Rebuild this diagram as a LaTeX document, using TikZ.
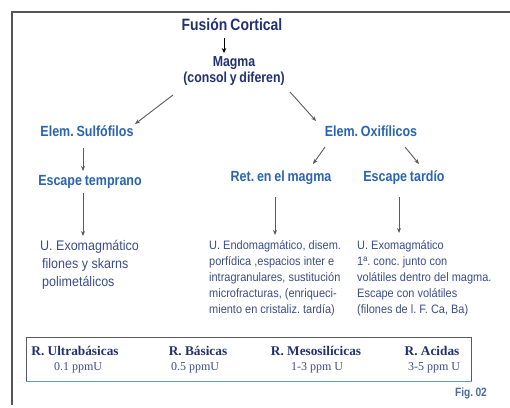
\documentclass[tikz,border=0pt]{standalone}
\usepackage{fontspec}
\usetikzlibrary{arrows.meta}
\setmainfont{Liberation Serif}
\frenchspacing
\newfontfamily\hfont[FakeStretch=0.85,WordSpace=0.8]{Liberation Sans}
\newfontfamily\bfont[FakeStretch=0.9]{Liberation Sans}
\definecolor{navy}{HTML}{22306F}
\definecolor{midblue}{HTML}{2A63B0}
\definecolor{bodyblue}{HTML}{3B4C8C}
\definecolor{framegray}{HTML}{555555}
\definecolor{arrgray}{HTML}{5A5A5A}
\definecolor{boxblue}{HTML}{5B9BD5}
\definecolor{figblue}{HTML}{4A6A9A}
\tikzset{
  title/.style={inner sep=0pt, text=navy, font=\hfont\bfseries\fontsize{16.4}{18}\selectfont},
  mag/.style={inner sep=0pt, text=navy, align=center, font=\hfont\bfseries\fontsize{14.5}{16}\selectfont},
  lvl/.style={inner sep=0pt, text=midblue, font=\hfont\bfseries\fontsize{14.7}{17}\selectfont},
  bodyL/.style={inner sep=0pt, text=bodyblue, align=left, anchor=west, font=\bfont\fontsize{13.9}{18}\selectfont},
  bodyR/.style={inner sep=0pt, text=bodyblue, align=left, anchor=west, font=\bfont\fontsize{12.2}{16}\selectfont},
  rlab/.style={inner sep=0pt, text=navy, font=\bfseries\fontsize{13.3}{15}\selectfont},
  rval/.style={inner sep=0pt, text=bodyblue, font=\fontsize{12}{14}\selectfont},
  arr/.style={draw=arrgray, line width=0.9pt, -{Stealth[length=5pt,width=4pt]}},
  blk/.style={draw=black, line width=1pt, -{Stealth[length=5pt,width=4.5pt]}}
}
\begin{document}
\begin{tikzpicture}[x=1pt,y=-1pt]
\useasboundingbox (0,0) rectangle (510,407);
% outer frame
\draw[framegray, line width=1.6pt] (510,12) -- (12,12) -- (12,405);
% nodes
\node[title] (fus) at (232,25) {Fusión Cortical};
\node[mag] (magma) at (234,71) {Magma\\(consol y diferen)};
\node[lvl] (sulf) at (87,131) {Elem. Sulfófilos};
\node[lvl] (oxi) at (371,131) {Elem. Oxifílicos};
\node[lvl] (esct) at (90,182) {Escape temprano};
\node[lvl] (ret) at (281,178) {Ret. en el magma};
\node[lvl] (esctard) at (404,178) {Escape tardío};
\node[bodyL] (exo1) at (40,265) {U. Exomagmático\\\hspace{2pt}filones y skarns\\\hspace{2pt}polimetálicos};
\node[bodyR] (endo) at (209,278) {U. Endomagmático, disem.\\porfídica ,espacios inter e\\intragranulares, sustitución\\microfracturas, (enriqueci-\\miento en cristaliz. tardía)};
\node[bodyR] (exo2) at (357,278) {U. Exomagmático\\1ª. conc. junto con\\volátiles dentro del magma.\\Escape con volátiles\\(filones de l. F. Ca, Ba)};
% connectors
\draw[blk] ([shift={(-8,13)}]fus.center) -- ([shift={(-10,-18)}]magma.center);
\draw[arr] ([shift={(-61,24)}]magma.center) -- ([shift={(48,-7)}]sulf.center);
\draw[arr] ([shift={(56,21)}]magma.center) -- ([shift={(-55,-10)}]oxi.center);
\draw[arr] ([shift={(-4,17)}]sulf.center) -- ([shift={(-7,-11)}]esct.center);
\draw[arr] ([shift={(-7,11)}]esct.center) -- ([shift={(43,-29)}]exo1.west);
\draw[arr] ([shift={(-46,16)}]oxi.center) -- ([shift={(32,-14)}]ret.center);
\draw[arr] ([shift={(34,16)}]oxi.center) -- ([shift={(15,-14)}]esctard.center);
\draw[arr] ([shift={(-6,19)}]ret.center) -- ([shift={(66,-43)}]endo.west);
\draw[arr] ([shift={(-5,19)}]esctard.center) -- ([shift={(42,-45)}]exo2.west);
% bottom box
\node[draw=arrgray, line width=1pt, minimum width=445pt, minimum height=44pt, inner sep=0pt] (rbox) at (248.5,359) {};
\draw[boxblue, line width=1.2pt] (rbox.south west) -- (rbox.south east);
\node[rlab] (ul) at (75,351) {R. Ultrabásicas};
\node[rval] (ulv) at (78,368) {0.1 ppmU};
\node[rlab] (ba) at (198,351) {R. Básicas};
\node[rval] (bav) at (195,368) {0.5 ppmU};
\node[rlab] (me) at (316,351) {R. Mesosilícicas};
\node[rval] (mev) at (317,368) {1-3 ppm U};
\node[rlab] (ac) at (432,351) {R. Acidas};
\node[rval] (acv) at (434,368) {3-5 ppm U};
\node[inner sep=0pt, text=figblue, font=\hfont\bfseries\fontsize{12}{14}\selectfont] (fig) at (471,393) {Fig. 02};
\end{tikzpicture}
\end{document}
